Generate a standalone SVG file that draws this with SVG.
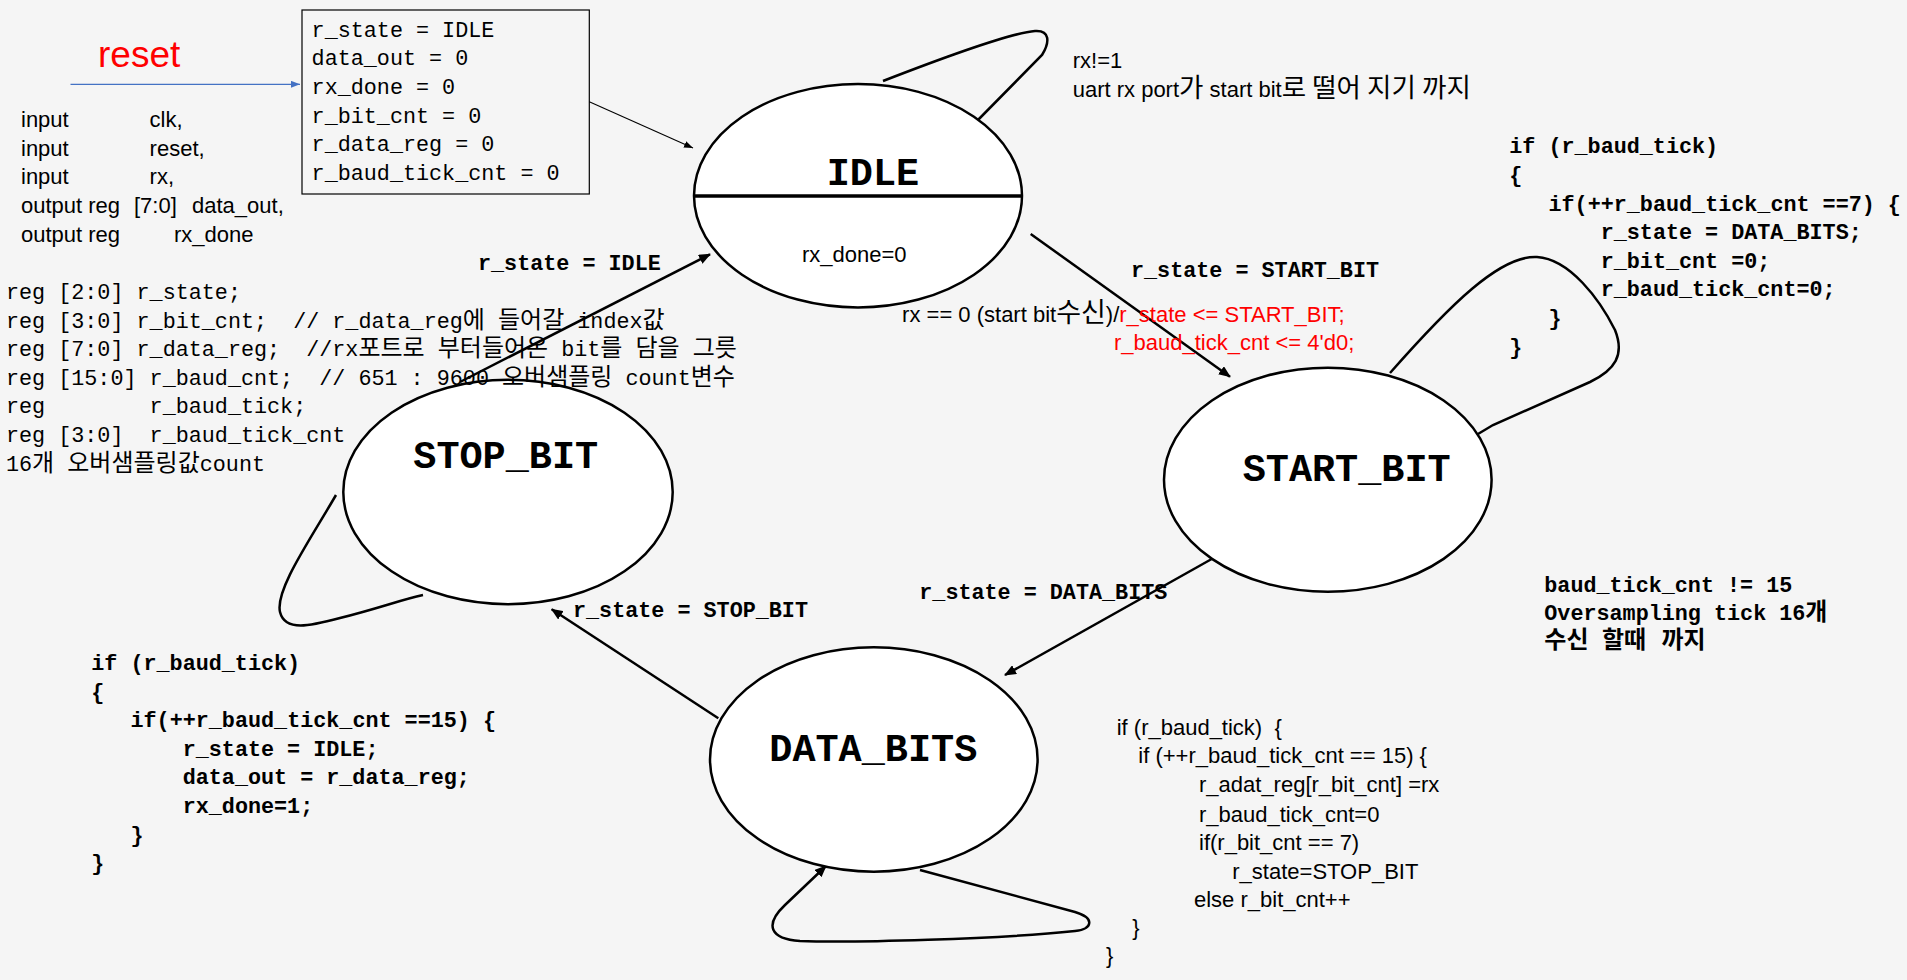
<svg xmlns="http://www.w3.org/2000/svg" width="1907" height="980" viewBox="0 0 1907 980" xml:space="preserve">
<style>
text{white-space:pre}
.node ellipse{fill:#fff;stroke:#000;stroke-width:2.5}
.edge{fill:none;stroke:#000;stroke-width:2.5}
.thin{fill:none;stroke:#000;stroke-width:1.1}
.mono{font-family:"Liberation Mono","Noto Sans CJK KR",monospace;font-size:21.75px;fill:#000}
.monob{font-family:"Liberation Mono","Noto Sans CJK KR",monospace;font-size:21.75px;font-weight:bold;fill:#000}
.sans{font-family:"Liberation Sans","Noto Sans CJK KR",sans-serif;font-size:22px;fill:#000}
.state{font-family:"Liberation Mono",monospace;font-size:38.5px;font-weight:bold;fill:#000}
.k{font-family:"Noto Sans CJK KR",sans-serif;font-size:24px}
.ks{font-family:"Noto Sans CJK KR",sans-serif;font-size:26.5px}
.kb{font-family:"Noto Sans CJK KR",sans-serif;font-size:24px;font-weight:bold}
.red{fill:#ff0000}
</style>
<defs>
<marker id="ah" viewBox="0 0 12 10" refX="11" refY="5" markerWidth="12" markerHeight="10" markerUnits="userSpaceOnUse" orient="auto"><path d="M0,0 L12,5 L0,10 z" fill="#000"/></marker>
<marker id="ahs" viewBox="0 0 9 7" refX="9" refY="3.5" markerWidth="9" markerHeight="7" markerUnits="userSpaceOnUse" orient="auto"><path d="M0,0 L9,3.5 L0,7 z" fill="#000"/></marker>
<marker id="ahb" viewBox="0 0 9 7" refX="9" refY="3.5" markerWidth="9" markerHeight="7" markerUnits="userSpaceOnUse" orient="auto"><path d="M0,0 L9,3.5 L0,7 z" fill="#4472C4"/></marker>
</defs>
<rect width="1907" height="980" fill="#f5f5f5"/>

<g id="connectors">
<line x1="70.5" y1="84.3" x2="300" y2="84.3" stroke="#4472C4" stroke-width="1.2" marker-end="url(#ahb)"/>
<line class="thin" x1="589.3" y1="101.7" x2="693" y2="148" marker-end="url(#ahs)"/>
<path class="edge" d="M883,81 C950,55 1010,33 1035,31 C1050,30 1050,42 1042,55 L975,123"/>
<line class="edge" x1="1030.7" y1="234" x2="1230" y2="376.7" marker-end="url(#ah)"/>
<path class="edge" d="M1390,373 C1450,305 1500,255 1537,257 C1570,259 1600,300 1615,330 C1625,355 1615,370 1590,382 L1493,425 L1478,434"/>
<line class="edge" x1="1211.7" y1="559" x2="1005" y2="675" marker-end="url(#ah)"/>
<path class="edge" d="M920,870 L1075,912 C1095,918 1093,929 1075,931 C1000,939 850,943 800,941 C770,939 764,925 785,905 L826,866" marker-end="url(#ah)"/>
<line class="edge" x1="718.3" y1="718.3" x2="551.7" y2="609.3" marker-end="url(#ah)"/>
<path class="edge" d="M336,495 C310,540 275,590 280,612 C285,632 310,626 340,618 C380,608 400,600 423,595"/>
<line class="edge" x1="460" y1="382" x2="710" y2="254.3" marker-end="url(#ah)"/>
</g>

<g id="reset-box">
<rect x="302" y="10" width="287.3" height="184" fill="none" stroke="#000" stroke-width="1.2"/>
<text class="mono" x="311.6" y="36.7">r_state = IDLE</text>
<text class="mono" x="311.6" y="65.3">data_out = 0</text>
<text class="mono" x="311.6" y="94">rx_done = 0</text>
<text class="mono" x="311.6" y="122.7">r_bit_cnt = 0</text>
<text class="mono" x="311.6" y="151.3">r_data_reg = 0</text>
<text class="mono" x="311.6" y="180">r_baud_tick_cnt = 0</text>
</g>

<g id="node-idle" class="node">
<ellipse cx="858" cy="195.7" rx="164" ry="111.7"/>
<line x1="694" y1="196" x2="1022" y2="196" stroke="#000" stroke-width="3.5"/>
<text class="state" x="826.7" y="185">IDLE</text>
<text class="sans" x="802" y="261.7">rx_done=0</text>
</g>

<g id="node-start-bit" class="node">
<ellipse cx="1327.8" cy="479.7" rx="163.8" ry="112"/>
<text class="state" x="1242.7" y="480.7">START_BIT</text>
</g>

<g id="node-data-bits" class="node">
<ellipse cx="873.8" cy="759.5" rx="163.8" ry="112.2"/>
<text class="state" x="769.3" y="760.7">DATA_BITS</text>
</g>

<g id="node-stop-bit" class="node">
<ellipse cx="508" cy="492" rx="164.7" ry="112.2"/>
<text class="state" x="413.3" y="468.3">STOP_BIT</text>
</g>

<g id="labels">
<text x="98" y="67" font-family="Liberation Sans, sans-serif" font-size="37" fill="#ff0000">reset</text>

<text class="sans" x="21" y="126.7">input</text><text class="sans" x="149.6" y="126.7">clk,</text>
<text class="sans" x="21" y="155.7">input</text><text class="sans" x="149.6" y="155.7">reset,</text>
<text class="sans" x="21" y="184.3">input</text><text class="sans" x="149.6" y="184.3">rx,</text>
<text class="sans" x="21" y="213.3">output reg</text><text class="sans" x="134" y="213.3">[7:0]</text><text class="sans" x="192" y="213.3">data_out,</text>
<text class="sans" x="21" y="242.3">output reg</text><text class="sans" x="174" y="242.3">rx_done</text>

<text class="mono" x="6" y="299">reg [2:0] r_state;</text>
<text class="mono" x="6" y="327.6">reg [3:0] r_bit_cnt;  // r_data_reg<tspan class="k">에</tspan> <tspan class="k">들어갈</tspan> index<tspan class="k">값</tspan></text>
<text class="mono" x="6" y="356.2">reg [7:0] r_data_reg;  //rx<tspan class="k">포트로</tspan> <tspan class="k">부터들어온</tspan> bit<tspan class="k">를</tspan> <tspan class="k">담을</tspan> <tspan class="k">그릇</tspan></text>
<text class="mono" x="6" y="384.8">reg [15:0] r_baud_cnt;  // 651 : 9600 <tspan class="k">오버샘플링</tspan> count<tspan class="k">변수</tspan></text>
<text class="mono" x="6" y="413.4">reg        r_baud_tick;</text>
<text class="mono" x="6" y="442">reg [3:0]  r_baud_tick_cnt</text>
<text class="mono" x="6" y="470.6">16<tspan class="k">개</tspan> <tspan class="k">오버샘플링값</tspan>count</text>

<text class="sans" x="1072.7" y="67.7">rx!=1</text>
<text class="sans" x="1072.7" y="97.3">uart rx port<tspan class="ks">가</tspan> start bit<tspan class="ks">로</tspan> <tspan class="ks">떨어</tspan> <tspan class="ks">지기</tspan> <tspan class="ks">까지</tspan></text>

<text class="monob" x="478" y="270">r_state = IDLE</text>
<text class="monob" x="1131" y="276.7">r_state = START_BIT</text>
<text class="sans" x="1119.3" y="321.7" text-anchor="end">rx == 0 (start bit<tspan class="ks" style="font-size:27px">수신</tspan>)/</text>
<text class="sans red" x="1119.3" y="321.7">r_state &lt;= START_BIT;</text>
<text class="sans red" x="1114" y="350">r_baud_tick_cnt &lt;= 4'd0;</text>
<text class="monob" x="919.3" y="599.3">r_state = DATA_BITS</text>
<text class="monob" x="573" y="616.5">r_state = STOP_BIT</text>

<text class="monob" x="1509.3" y="153.3">if (r_baud_tick)</text>
<text class="monob" x="1509.3" y="181.9">{</text>
<text class="monob" x="1548.5" y="210.5">if(++r_baud_tick_cnt ==7) {</text>
<text class="monob" x="1600.7" y="239.1">r_state = DATA_BITS;</text>
<text class="monob" x="1600.7" y="267.7">r_bit_cnt =0;</text>
<text class="monob" x="1600.7" y="296.3">r_baud_tick_cnt=0;</text>
<text class="monob" x="1548.5" y="324.9">}</text>
<text class="monob" x="1509.3" y="353.5">}</text>

<text class="monob" x="1544.3" y="591.7">baud_tick_cnt != 15</text>
<text class="monob" x="1544.3" y="620">Oversampling tick 16<tspan class="kb">개</tspan></text>
<text class="monob" y="648.3"><tspan class="kb" x="1544.3">수신</tspan><tspan class="kb" x="1602">할때</tspan><tspan class="kb" x="1661.5">까지</tspan></text>

<text class="sans" x="1116.7" y="735">if (r_baud_tick)  {</text>
<text class="sans" x="1138.3" y="763.3">if (++r_baud_tick_cnt == 15) {</text>
<text class="sans" x="1199" y="792.3">r_adat_reg[r_bit_cnt] =rx</text>
<text class="sans" x="1199" y="821.7">r_baud_tick_cnt=0</text>
<text class="sans" x="1199" y="850">if(r_bit_cnt == 7)</text>
<text class="sans" x="1232.3" y="879">r_state=STOP_BIT</text>
<text class="sans" x="1194" y="907.3">else r_bit_cnt++</text>
<text class="sans" x="1132.3" y="935">}</text>
<text class="sans" x="1106" y="963.3">}</text>

<text class="monob" x="91.3" y="670">if (r_baud_tick)</text>
<text class="monob" x="91.3" y="698.6">{</text>
<text class="monob" x="130.5" y="727.2">if(++r_baud_tick_cnt ==15) {</text>
<text class="monob" x="182.7" y="755.8">r_state = IDLE;</text>
<text class="monob" x="182.7" y="784.4">data_out = r_data_reg;</text>
<text class="monob" x="182.7" y="813">rx_done=1;</text>
<text class="monob" x="130.5" y="841.6">}</text>
<text class="monob" x="91.3" y="870.2">}</text>
</g>
</svg>
